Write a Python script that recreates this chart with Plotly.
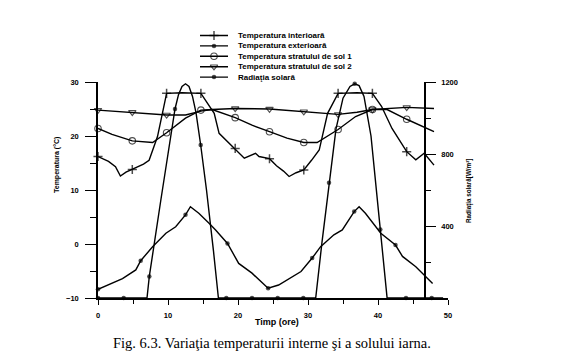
import plotly.graph_objects as go

# ---------------- data ----------------
names = ["Temperatura interioară", "Temperatura exterioară",
         "Temperatura stratului de sol 1", "Temperatura stratului de sol 2",
         "Radiaţia solară"]

t_int = [0, 1.5, 2.5, 3.2, 4.0, 4.9, 6.5, 7.3, 8.5, 9.8, 12.0, 14.7, 16.0, 16.6, 17.3, 18.5,
         19.6, 20.9, 22.5, 23.0, 24.5, 25.5, 26.5, 27.3, 28.3, 29.4, 30.5, 31.6, 32.8, 34.3,
         37.0, 39.2, 40.5, 41.3, 42.0, 44.1, 45.4, 46.6, 48.0]
T_int = [16.2, 15.3, 14.3, 12.6, 13.3, 13.8, 14.8, 15.5, 19.9, 27.9, 28.0, 27.9, 25.5, 24.2, 20.5, 19.0,
         17.7, 15.9, 16.8, 16.2, 15.8, 14.5, 13.5, 12.5, 13.2, 13.7, 15.5, 17.4, 24.2, 27.9,
         28.0, 27.9, 25.5, 23.3, 21.4, 17.1, 15.6, 16.8, 14.6]
m_int = [0, 4.9, 9.8, 14.7, 19.6, 24.5, 29.4, 34.3, 39.2, 44.1]

t_ext = [0, 1.5, 3.5, 5.4, 6.1, 7.8, 9.7, 11.1, 12.5, 13.2, 14.4, 15.9, 16.8, 18.5, 20.1, 22.0,
         24.3, 25.8, 27.3, 29.0, 30.6, 31.8, 33.7, 34.9, 36.6, 37.3, 38.2, 39.4, 40.4, 42.5,
         43.5, 45.4, 47.8]
T_ext = [-8.4, -7.5, -6.4, -4.8, -3.1, -0.5, 2.0, 3.2, 5.4, 6.9, 5.7, 3.8, 2.6, 0.1, -3.6, -5.4,
         -8.2, -7.6, -6.4, -5.1, -2.6, -0.5, 1.7, 2.6, 6.0, 6.9, 5.7, 3.8, 2.0, -0.2,
         -2.3, -4.2, -7.3]
m_ext = [0, 6.1, 12.5, 18.5, 24.3, 30.6, 36.6, 42.5]

t_s1 = [0, 2.0, 4.9, 7.8, 9.8, 12.5, 14.7, 16.3, 19.6, 22.0, 24.5, 27.0, 29.4, 31.3, 34.3,
        36.8, 39.2, 41.3, 44.1, 46.0, 48.0]
T_s1 = [21.4, 20.3, 19.1, 18.8, 20.6, 23.3, 24.8, 24.9, 23.4, 22.0, 20.8, 19.6, 18.8, 18.8, 21.2,
        23.6, 24.9, 24.9, 23.1, 22.0, 20.8]
m_s1 = [0, 4.9, 9.8, 14.7, 19.6, 24.5, 29.4, 34.3, 39.2, 44.1]

t_s2 = [0, 4.9, 9.8, 12.5, 14.7, 16.3, 19.6, 24.5, 29.4, 34.3, 37.0, 39.2, 44.1, 48.0]
T_s2 = [24.8, 24.4, 23.9, 23.9, 24.6, 24.9, 25.1, 25.0, 24.5, 24.0, 24.4, 24.9, 25.3, 25.1]
m_s2 = [0, 4.9, 9.8, 19.6, 24.5, 29.4, 34.3, 39.2, 44.1]

t_rad = [0, 3.67, 7.0, 7.33, 8.0, 9.0, 10.0, 11.0, 11.5, 12.0, 12.5, 13.0, 13.5, 14.0, 14.67,
         15.5, 16.5, 17.2, 18.33, 22.0, 25.67, 29.33, 31.1, 32.0, 33.0, 34.0, 35.0, 36.0, 36.67,
         37.3, 38.0, 39.0, 40.33, 41.3, 44.0, 47.67, 49.3]
R_rad = [0, 0, 0, 120, 300, 550, 800, 1050, 1130, 1175, 1190, 1175, 1120, 1030, 850,
         600, 260, 0, 0, 0, 0, 0, 0, 310, 640, 940, 1110, 1175, 1190,
         1180, 1120, 900, 380, 0, 0, 0, 0]
m_rad = [0, 3.67, 7.33, 11.0, 14.67, 18.33, 22.0, 25.67, 29.33, 33.0, 36.67, 40.33, 44.0, 47.67]

y_ticks = [-10, 0, 10, 20, 30]
y2_ticks = [400, 800, 1200]
x_ticks = [0, 10, 20, 30, 40, 50]

caption = "Fig. 6.3. Variaţia temperaturii interne şi a solului iarna."

# ---------------- styling ----------------
styles = [
    dict(symbol="cross-thin", size=6.5, line=dict(width=1.5, color="black"), color="black"),
    dict(symbol="circle", size=4.5, color="black", line=dict(width=0)),
    dict(symbol="circle-open", size=6.5, color="black", line=dict(width=1.1)),
    dict(symbol="triangle-down-open", size=6.5, color="black", line=dict(width=1.1)),
    dict(symbol="circle", size=4.5, color="black", line=dict(width=0)),
]
series = [(t_int, T_int, m_int, "y"), (t_ext, T_ext, m_ext, "y"),
          (t_s1, T_s1, m_s1, "y"), (t_s2, T_s2, m_s2, "y"),
          (t_rad, R_rad, m_rad, "y2")]

fig = go.Figure()
for (tx, vy, marks, ax), st, nm in zip(series, styles, names):
    sizes = [st["size"] if t in marks else 0 for t in tx]
    mk = dict(st)
    mk["size"] = sizes
    fig.add_trace(go.Scatter(x=tx, y=vy, mode="lines+markers", name=nm, yaxis=ax,
                             line=dict(color="black", width=1.4), marker=mk,
                             cliponaxis=False, showlegend=False))

# hand-built legend on an auxiliary axis
for i, (st, nm) in enumerate(zip(styles, names)):
    mk = dict(st)
    mk["size"] = [0, st["size"], 0]
    fig.add_trace(go.Scatter(x=[0, 0.5, 1], y=[i, i, i], mode="lines+markers",
                             xaxis="x3", yaxis="y3", showlegend=False,
                             line=dict(color="black", width=1.4), marker=mk,
                             cliponaxis=False, hoverinfo="skip"))
    fig.add_annotation(x=1, y=i, xref="x3", yref="y3", text=nm, showarrow=False,
                       xanchor="left", yanchor="middle", xshift=8,
                       font=dict(family="Liberation Sans", size=8, color="black", weight="bold"))

W, H = 575, 360
ml, mr, mt, mb = 98, 127, 20, 62
pw, ph = W - ml - mr, H - mt - mb
def px(x):
    return (x - ml) / pw
def py(y):
    return (H - mb - y) / ph

tickfont = dict(family="Liberation Sans", size=7.5, color="black", weight="bold")
fig.update_layout(
    width=W, height=H, margin=dict(l=ml, r=mr, t=mt, b=mb),
    paper_bgcolor="white", plot_bgcolor="white", showlegend=False,
    xaxis=dict(domain=[0, 1], range=[0, 50], tickvals=x_ticks, ticks="outside", ticklen=5,
               tickwidth=1.3, tickcolor="black", showline=True, linecolor="black", linewidth=1.5,
               showgrid=False, zeroline=False, tickfont=tickfont, ticklabelstandoff=4,
               minor=dict(dtick=5, ticks="outside", ticklen=4, tickcolor="black", tickwidth=1.2)),
    yaxis=dict(domain=[0, py(82)], range=[-10, 30], tickvals=y_ticks, ticks="outside", ticklen=11,
               tickwidth=1.3, tickcolor="black", showline=True, linecolor="black", linewidth=1.5,
               showgrid=False, zeroline=False, tickfont=tickfont, ticklabelstandoff=5,
               minor=dict(dtick=5, ticks="outside", ticklen=6, tickcolor="black", tickwidth=1.2)),
    yaxis2=dict(overlaying="y", side="right", anchor="free", position=px(425),
                range=[0, 1200], tickvals=y2_ticks, ticks="outside", ticklen=10,
                tickwidth=1.3, tickcolor="black", showline=True, linecolor="black", linewidth=1.5,
                showgrid=False, zeroline=False, tickfont=tickfont, ticklabelstandoff=4,
                minor=dict(dtick=200, ticks="outside", ticklen=5, tickcolor="black", tickwidth=1.2)),
    xaxis3=dict(domain=[px(200), px(228)], range=[0, 1], visible=False, anchor="y3"),
    yaxis3=dict(domain=[py(82.3), py(30.3)], range=[4.5, -0.5], visible=False, anchor="x3"),
)

def label(x, y, text, size, angle=0, family="Liberation Sans", bold=True):
    fig.add_annotation(x=px(x), y=py(y), xref="paper", yref="paper", text=text,
                       textangle=angle, showarrow=False, xanchor="center", yanchor="middle",
                       font=dict(family=family, size=size, color="black",
                                 weight="bold" if bold else "normal"))

label(57, 165, "Temperatura (°C)", 7, -90)
label(469, 191, "Radiaţia solară[W/m²]", 6.3, -90)
label(277, 322, "Timp (ore)", 9)
label(272, 343, caption, 14.5, family="Liberation Serif", bold=False)

fig.write_html("out.html", config={"displayModeBar": False},
               post_script="document.body.style.margin='0px';")
